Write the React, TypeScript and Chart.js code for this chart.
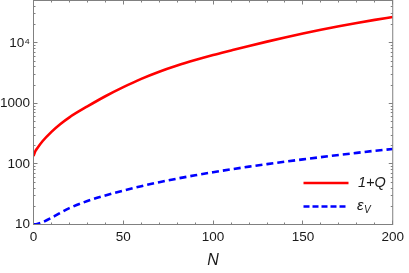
import { useEffect, useRef } from "react";
import { Chart, registerables } from "chart.js";

Chart.register(...registerables);

const N_Q = [0, 1, 2, 5, 10, 15, 20, 30, 40, 50, 60, 70, 80, 90, 100, 110, 120, 130, 140, 150, 160, 170, 180, 190, 200];
const ONE_PLUS_Q = [135, 162, 180, 237, 339, 457, 589, 891, 1312, 1854, 2541, 3334, 4217, 5200, 6310, 7500, 8890, 10470, 12250, 14220, 16410, 18750, 21280, 23930, 26730];

const N_EPS = [0, 2, 5, 10, 15, 20, 30, 40, 50, 60, 70, 80, 90, 100, 110, 120, 130, 140, 150, 160, 170, 180, 190, 200];
const EPS_V = [10, 10.2, 10.9, 12.9, 15.6, 18.6, 24.4, 30.2, 36.3, 42.9, 49.9, 57.3, 65.0, 73.1, 81.5, 90.2, 99.3, 108.9, 118.9, 129.4, 140.6, 152.4, 164.8, 176];

const X_TICKS = [0, 50, 100, 150, 200];
const Y_TICKS = [10, 100, 1000, 10000];
const Y_TICK_LABELS = ["10", "100", "1000", "10\u2074"];

const SERIES_LABELS = ["1+Q", "\u03B5"];
const EPS_SUBSCRIPT = "V";

const FONT = "'Liberation Sans', Arial, Helvetica, sans-serif";

const framePlugin = {
  id: "frameTicks",
  afterDatasetsDraw(chart: any) {
    const { ctx, chartArea, scales } = chart;
    const { left, right, top, bottom } = chartArea;
    const xs = scales.x;
    const ys = scales.y;
    ctx.save();
    ctx.strokeStyle = "#808080";
    ctx.lineWidth = 1;
    ctx.strokeRect(left, top, right - left, bottom - top);
    ctx.beginPath();
    for (let n = 0; n <= 200; n += 10) {
      const px = Math.floor(xs.getPixelForValue(n)) + 0.5;
      const len = n % 50 === 0 ? 4 : 2;
      ctx.moveTo(px, bottom);
      ctx.lineTo(px, bottom - len);
      ctx.moveTo(px, top);
      ctx.lineTo(px, top + len);
    }
    for (let d = 10; d <= 10000; d *= 10) {
      for (let m = 1; m <= 9; m++) {
        const v = d * m;
        if (v > ys.max) continue;
        const py = Math.floor(ys.getPixelForValue(v)) + 0.5;
        const len = m === 1 ? 4 : 2;
        ctx.moveTo(left, py);
        ctx.lineTo(left + len, py);
        ctx.moveTo(right, py);
        ctx.lineTo(right - len, py);
      }
    }
    ctx.stroke();
    ctx.restore();
  },
  afterDraw(chart: any) {
    const { ctx } = chart;
    ctx.save();
    const x0 = 303.5;
    const x1 = 348.5;
    const yRed = 183;
    const yBlue = 206.5;
    ctx.lineWidth = 2.6;
    ctx.strokeStyle = "#ff0000";
    ctx.beginPath();
    ctx.moveTo(x0, yRed);
    ctx.lineTo(x1, yRed);
    ctx.stroke();
    ctx.strokeStyle = "#0000ff";
    ctx.setLineDash([6, 3]);
    ctx.beginPath();
    ctx.moveTo(x0, yBlue);
    ctx.lineTo(x1, yBlue);
    ctx.stroke();
    ctx.setLineDash([]);
    ctx.fillStyle = "#1a1a1a";
    ctx.textBaseline = "middle";
    ctx.textAlign = "left";
    ctx.font = `italic 14.5px ${FONT}`;
    ctx.fillText(SERIES_LABELS[0], 358, yRed);
    ctx.font = `italic 15px ${FONT}`;
    ctx.fillText(SERIES_LABELS[1], 357, yBlue - 1);
    const w = ctx.measureText(SERIES_LABELS[1]).width;
    ctx.font = `italic 10px ${FONT}`;
    ctx.fillText(EPS_SUBSCRIPT, 357 + w + 0.5, yBlue + 4);
    ctx.restore();
  },
};

export default function App() {
  const ref = useRef<HTMLCanvasElement | null>(null);
  useEffect(() => {
    document.body.style.margin = "0";
    const canvas = ref.current;
    if (!canvas) return;
    const chart = new Chart(canvas, {
      type: "line",
      data: {
        datasets: [
          {
            label: SERIES_LABELS[0],
            data: N_Q.map((n, i) => ({ x: n, y: ONE_PLUS_Q[i] })),
            borderColor: "#ff0000",
            borderWidth: 2.6,
            pointRadius: 0,
            cubicInterpolationMode: "monotone",
            fill: false,
          },
          {
            label: SERIES_LABELS[1] + EPS_SUBSCRIPT,
            data: N_EPS.map((n, i) => ({ x: n, y: EPS_V[i] })),
            borderColor: "#0000ff",
            borderWidth: 2.6,
            borderDash: [7, 4],
            pointRadius: 0,
            cubicInterpolationMode: "monotone",
            fill: false,
          },
        ],
      },
      options: {
        animation: false,
        responsive: false,
        maintainAspectRatio: false,
        events: [],
        layout: { padding: { top: 0.5, right: 12.5, left: 0, bottom: 0 } },
        plugins: {
          legend: { display: false },
          tooltip: { enabled: false },
          title: { display: false },
        },
        scales: {
          x: {
            type: "linear",
            min: 0,
            max: 200,
            grid: { display: false, drawTicks: false },
            border: { display: false },
            afterBuildTicks: (s: any) => {
              s.ticks = X_TICKS.map((v) => ({ value: v }));
            },
            afterFit: (s: any) => {
              s.height = 48.5;
              s.paddingLeft = 0;
            },
            ticks: {
              padding: 5,
              color: "#1a1a1a",
              font: { family: FONT, size: 13.5 },
              maxRotation: 0,
              callback: (v: any) => String(v),
            },
            title: {
              display: true,
              text: "N",
              color: "#1a1a1a",
              font: { family: FONT, size: 16, style: "italic" },
              padding: { top: 0, bottom: 3 },
            },
          },
          y: {
            type: "logarithmic",
            min: 10,
            max: 50000,
            grid: { display: false, drawTicks: false },
            border: { display: false },
            afterBuildTicks: (s: any) => {
              s.ticks = Y_TICKS.map((v) => ({ value: v }));
            },
            afterFit: (s: any) => {
              s.width = 33.5;
              s.paddingTop = 0;
              s.paddingBottom = 0;
            },
            ticks: {
              padding: 3.5,
              color: "#1a1a1a",
              font: { family: FONT, size: 13.5 },
              callback: (v: any) => {
                const i = Y_TICKS.indexOf(Number(v));
                return i >= 0 ? Y_TICK_LABELS[i] : "";
              },
            },
          },
        },
      },
      plugins: [framePlugin],
    } as any);
    return () => chart.destroy();
  }, []);
  return <canvas ref={ref} width={409} height={273} style={{ display: "block" }} />;
}
